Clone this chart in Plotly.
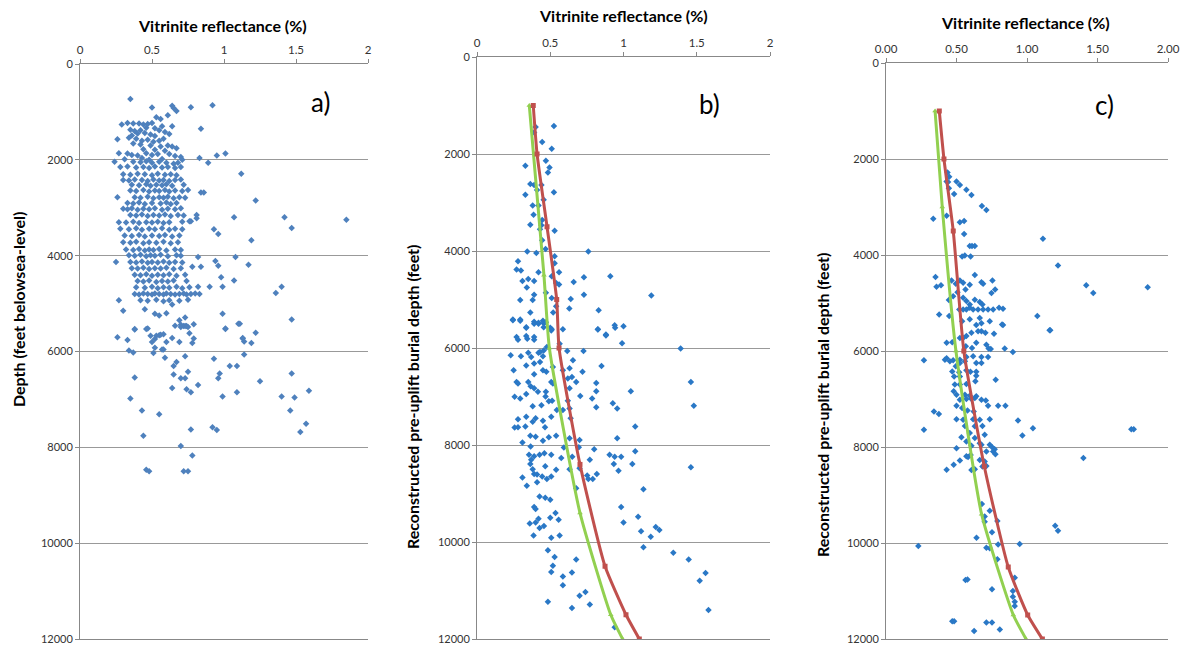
import plotly.graph_objects as go

# ---- data: (vitrinite reflectance %, depth ft) ----
pts_a = [
    (0.35, 730), (0.50, 910), (0.64, 870), (0.65, 920), (0.67, 980), (0.77, 900), (0.92, 860),
    (0.61, 1070), (0.53, 1110), (0.56, 1150), (0.29, 1260), (0.33, 1230), (0.37, 1240), (0.41, 1240),
    (0.44, 1260), (0.47, 1250), (0.50, 1230), (0.57, 1300), (0.64, 1300), (0.84, 1350), (0.35, 1370),
    (0.38, 1400), (0.42, 1380), (0.46, 1330), (0.52, 1340), (0.55, 1380), (0.59, 1420), (0.62, 1460),
    (0.45, 1440), (0.49, 1470), (0.52, 1500), (0.40, 1450), (0.36, 1490),
    (0.26, 1570), (0.34, 1540), (0.39, 1560), (0.43, 1600), (0.47, 1580), (0.51, 1620), (0.55, 1600),
    (0.58, 1560), (0.37, 1660), (0.42, 1680), (0.49, 1700), (0.56, 1720), (0.61, 1700), (0.64, 1720),
    (0.67, 1760), (0.44, 1780), (0.52, 1790), (0.59, 1810), (0.27, 1860), (0.33, 1870), (0.36, 1900),
    (0.40, 1910), (0.46, 1860), (0.50, 1900), (0.54, 1880), (0.62, 1880), (0.66, 1920), (0.70, 1940),
    (0.95, 1910), (1.01, 1870), (0.83, 1960), (0.24, 2040), (0.31, 1990), (0.43, 1960), (0.48, 2000),
    (0.57, 1980), (0.60, 2060), (0.65, 2080), (0.71, 2000), (0.89, 2060),
    (0.37, 2040), (0.42, 2050), (0.46, 2030), (0.50, 2060), (0.55, 2040), (0.68, 2060),
    (0.28, 2150), (0.33, 2140), (0.39, 2160), (0.44, 2150), (0.48, 2170), (0.52, 2140), (0.57, 2160),
    (0.61, 2150), (0.66, 2170), (0.70, 2150),
    (0.30, 2300), (0.35, 2310), (0.40, 2290), (0.45, 2300), (0.50, 2320), (0.54, 2290), (0.59, 2310),
    (0.63, 2300), (0.67, 2320), (1.12, 2290),
    (0.30, 2420), (0.34, 2430), (0.38, 2410), (0.43, 2420), (0.47, 2440), (0.51, 2410), (0.55, 2430),
    (0.58, 2420), (0.62, 2440), (0.66, 2420), (0.70, 2410),
    (0.36, 2520), (0.41, 2530), (0.46, 2510), (0.49, 2540), (0.53, 2520), (0.57, 2530), (0.60, 2510),
    (0.64, 2540), (0.72, 2520),
    (0.35, 2640), (0.39, 2650), (0.44, 2630), (0.48, 2660), (0.52, 2640), (0.55, 2650), (0.59, 2630),
    (0.62, 2660), (0.66, 2640), (0.71, 2650), (0.75, 2630), (0.84, 2680), (0.86, 2680),
    (0.26, 2780), (0.38, 2780), (0.42, 2790), (0.47, 2770), (0.51, 2800), (0.55, 2780), (0.58, 2790),
    (0.61, 2770), (0.65, 2800), (0.69, 2780), (0.73, 2790), (1.22, 2850),
    (0.33, 2900), (0.37, 2910), (0.41, 2890), (0.45, 2920), (0.50, 2900), (0.56, 2910), (0.60, 2890),
    (0.63, 2920), (0.67, 2900),
    (0.30, 3020), (0.33, 3030), (0.36, 3010), (0.40, 3040), (0.44, 3020), (0.48, 3030), (0.52, 3010),
    (0.57, 3040), (0.61, 3020), (0.66, 3030), (0.70, 3010),
    (0.35, 3150), (0.39, 3160), (0.43, 3140), (0.47, 3170), (0.51, 3150), (0.55, 3160), (0.59, 3140),
    (0.63, 3170), (0.68, 3150), (0.72, 3160), (0.81, 3150), (0.81, 3220),
    (1.07, 3200), (1.42, 3200), (1.85, 3250), (1.47, 3420), (0.93, 3450), (0.96, 3550), (1.19, 3680),
    (0.77, 3280), (0.27, 3300), (0.32, 3310), (0.37, 3290), (0.41, 3320), (0.46, 3300), (0.50, 3310),
    (0.54, 3290), (0.58, 3320), (0.62, 3300), (0.71, 3290), (0.76, 3280),
    (0.28, 3440), (0.34, 3450), (0.39, 3430), (0.43, 3460), (0.48, 3440), (0.52, 3450), (0.57, 3430),
    (0.62, 3460), (0.66, 3440), (0.71, 3450),
    (0.31, 3580), (0.36, 3590), (0.41, 3570), (0.45, 3600), (0.50, 3580), (0.55, 3590), (0.59, 3570),
    (0.64, 3600), (0.69, 3580),
    (0.30, 3720), (0.35, 3730), (0.39, 3710), (0.44, 3740), (0.48, 3720), (0.53, 3730), (0.58, 3710),
    (0.63, 3740), (0.68, 3720),
    (0.32, 3870), (0.37, 3880), (0.41, 3860), (0.45, 3890), (0.48, 3870), (0.51, 3880), (0.55, 3860),
    (0.60, 3890), (0.66, 3870), (0.70, 3880),
    (0.34, 3990), (0.38, 4000), (0.42, 3980), (0.46, 4010), (0.49, 3990), (0.52, 4000), (0.56, 3980),
    (0.61, 4010), (0.67, 3990), (0.70, 4000), (0.82, 4030), (1.08, 4030),
    (0.25, 4130), (0.35, 4130), (0.39, 4140), (0.43, 4120), (0.47, 4150), (0.50, 4130), (0.54, 4140),
    (0.58, 4120), (0.62, 4150), (0.66, 4130), (0.71, 4140), (0.94, 4110), (1.17, 4190),
    (0.36, 4260), (0.40, 4270), (0.44, 4250), (0.48, 4280), (0.52, 4260), (0.56, 4270), (0.60, 4250),
    (0.65, 4280), (0.70, 4260), (0.78, 4230), (0.84, 4230), (0.96, 4210),
    (0.38, 4400), (0.42, 4410), (0.46, 4390), (0.50, 4420), (0.54, 4400), (0.58, 4410), (0.62, 4390),
    (0.67, 4420), (0.73, 4400), (0.98, 4450),
    (0.40, 4530), (0.44, 4540), (0.48, 4520), (0.53, 4550), (0.57, 4530), (0.61, 4540), (0.65, 4520),
    (0.74, 4530), (1.07, 4520),
    (0.39, 4660), (0.45, 4670), (0.50, 4650), (0.54, 4680), (0.58, 4660), (0.62, 4670), (0.67, 4650),
    (0.71, 4680), (0.76, 4660), (0.82, 4650), (0.90, 4650), (0.99, 4650), (1.40, 4650), (1.36, 4780),
    (0.38, 4800), (0.41, 4810), (0.44, 4790), (0.47, 4800), (0.50, 4810), (0.52, 4790), (0.55, 4800),
    (0.58, 4810), (0.60, 4790), (0.63, 4800), (0.66, 4810), (0.69, 4800), (0.72, 4790), (0.74, 4810),
    (0.77, 4800), (0.80, 4790), (0.83, 4800),
    (0.27, 4930), (0.42, 4930), (0.47, 4940), (0.53, 4920), (0.58, 4950), (0.62, 4930), (0.69, 4940),
    (0.75, 4920),
    (0.30, 5150), (0.45, 5120), (0.52, 5210), (0.60, 5200), (0.64, 5020), (0.55, 5250), (0.69, 5350),
    (0.73, 5290), (0.99, 5210), (1.47, 5330), (1.10, 5420), (1.01, 5520), (1.22, 5610), (1.13, 5720),
    (0.38, 5540), (0.47, 5520),
    (0.26, 5700), (0.33, 5760), (0.34, 5980), (0.37, 6020), (0.38, 5530), (0.38, 6540), (0.35, 6980),
    (0.43, 7230), (0.44, 7760), (0.46, 8470), (0.48, 8500), (0.46, 5530), (0.49, 5670), (0.50, 5800),
    (0.52, 5740), (0.53, 5670), (0.55, 5660), (0.56, 5650), (0.58, 5640), (0.52, 5920), (0.51, 6030),
    (0.57, 5960), (0.58, 5960), (0.59, 6130), (0.60, 5800), (0.64, 5720), (0.66, 5460), (0.70, 5440),
    (0.70, 5490), (0.72, 5470), (0.73, 5470), (0.74, 5470), (0.75, 5490), (0.76, 5620), (0.69, 5800),
    (0.79, 5430), (0.78, 5820), (0.79, 5730), (0.73, 6100), (0.67, 6220), (0.65, 6300), (0.65, 6480),
    (0.70, 6560), (0.73, 6560), (0.75, 6420), (0.74, 6790), (0.77, 6850), (0.82, 6700), (0.64, 6760),
    (0.55, 7310), (0.77, 7630), (0.70, 7970), (0.78, 8170), (0.72, 8500), (0.75, 8500),
    (0.93, 6150), (0.97, 6460), (0.96, 6560), (0.99, 6940), (0.92, 7580), (0.95, 7640),
    (1.01, 5530), (1.11, 5420), (1.13, 5730), (1.14, 5790), (1.19, 5820), (1.14, 6060), (1.04, 6300),
    (1.09, 6300), (1.09, 6850), (1.25, 6620), (1.40, 6940), (1.47, 6460), (1.49, 6960), (1.59, 6820),
    (1.46, 7230), (1.57, 7510), (1.53, 7680),
]

pts_b = [
    (0.40, 1445), (0.525, 1425), (0.39, 1555), (0.445, 1750), (0.51, 1890), (0.47, 2140), (0.495, 2280),
    (0.484, 2380), (0.33, 2240), (0.364, 2620), (0.39, 2640), (0.41, 2740), (0.44, 2640), (0.33, 2840),
    (0.525, 2790), (0.455, 2945), (0.38, 3060), (0.42, 3060), (0.386, 3250), (0.445, 3360), (0.44, 3470),
    (0.364, 3460), (0.43, 3550), (0.53, 3580), (0.445, 3780), (0.468, 3960), (0.343, 4010), (0.405, 4040),
    (0.53, 4110), (0.76, 4010), (0.28, 4210), (0.53, 4250), (0.27, 4380), (0.30, 4400), (0.56, 4440),
    (0.42, 4440), (0.51, 4520), (0.35, 4575), (0.31, 4620), (0.39, 4620), (0.54, 4660), (0.56, 4690),
    (0.66, 4640), (0.73, 4540), (0.91, 4520), (0.34, 4750), (0.39, 4900), (0.47, 4860), (0.51, 4970),
    (0.73, 4900), (0.64, 4990), (1.19, 4920), (0.295, 5010), (0.38, 5010), (0.54, 5140), (0.63, 5185),
    (0.83, 5220), (0.364, 5270), (0.52, 5270), (0.245, 5410), (0.295, 5410), (0.39, 5460), (0.42, 5480),
    (0.455, 5490), (0.47, 5470), (0.336, 5570), (0.50, 5580), (0.51, 5615), (0.586, 5615), (0.825, 5615),
    (0.88, 5720), (0.94, 5530), (0.27, 5775), (0.336, 5750), (0.39, 5775),
    (0.245, 5430), (0.295, 5440), (0.336, 5580), (0.39, 5500), (0.42, 5500), (0.45, 5440), (0.28, 5830),
    (0.343, 5810), (0.39, 5830), (0.455, 5570), (0.507, 5640), (0.564, 5910), (0.43, 6080), (0.455, 6050),
    (0.477, 5980), (0.825, 5620), (0.88, 5740), (0.943, 5580), (1.0, 5550), (0.99, 5900), (1.39, 6010),
    (0.23, 6150), (0.30, 6170), (0.35, 6100), (0.37, 6185), (0.42, 6100), (0.45, 6170), (0.616, 6060),
    (0.655, 6250), (0.727, 6060), (0.25, 6460), (0.336, 6360), (0.39, 6320), (0.43, 6290), (0.45, 6460),
    (0.518, 6390), (0.586, 6460), (0.632, 6420), (0.85, 6370), (0.39, 6540), (0.473, 6490), (0.72, 6490),
    (0.648, 6600), (0.27, 6700), (0.35, 6700), (0.28, 6730), (0.507, 6700), (0.62, 6630), (0.677, 6700),
    (0.814, 6720), (1.46, 6700), (0.366, 6790), (0.39, 6830), (0.416, 6900), (0.47, 6900), (0.518, 6730),
    (0.632, 6830), (0.814, 6890), (1.05, 6890),
    (0.257, 7005), (0.295, 7040), (0.336, 6950), (0.468, 7000), (0.49, 7100), (0.513, 7090), (0.38, 7200),
    (0.44, 7180), (0.545, 7280), (0.586, 7280), (0.62, 7090), (0.705, 6990), (0.786, 7040), (0.814, 7220),
    (0.927, 7140), (0.957, 7245), (1.48, 7190), (0.632, 7245), (0.28, 7470), (0.336, 7420), (0.40, 7450),
    (0.45, 7500), (0.28, 7635), (0.257, 7640), (0.33, 7620), (0.38, 7520), (0.464, 7635), (0.507, 7420),
    (0.639, 7450), (0.31, 7950), (0.364, 7810), (0.40, 7830), (0.45, 7910), (0.49, 7840), (0.54, 7810),
    (0.593, 8050), (0.632, 7860), (0.70, 7895), (0.695, 8045), (0.957, 7860), (1.08, 7620),
    (0.366, 8030), (0.355, 8200), (0.37, 8305), (0.39, 8230), (0.427, 8200), (0.364, 8390), (0.46, 8170),
    (0.507, 8200), (0.575, 8270), (0.65, 8240), (0.80, 8090), (0.905, 8200), (0.94, 8240), (0.984, 8240),
    (1.08, 8130), (0.77, 8305), (0.934, 8390), (1.06, 8390), (1.46, 8460), (0.38, 8500), (0.466, 8440),
    (0.54, 8510), (0.39, 8600), (0.41, 8610), (0.445, 8650), (0.477, 8700), (0.507, 8650), (0.632, 8500),
    (0.70, 8480), (0.752, 8630), (0.818, 8600), (0.76, 8700), (0.79, 8700), (0.31, 8670), (0.34, 8840),
    (0.41, 8770), (0.677, 8890), (0.966, 8530), (1.136, 8910),
    (0.427, 9060), (0.466, 9090), (0.50, 9130), (0.39, 9280), (0.40, 9320), (0.984, 9280), (0.36, 9620),
    (0.40, 9600), (0.42, 9520), (0.50, 9500), (0.536, 9400), (0.557, 9540), (0.427, 9710), (0.457, 9670),
    (0.386, 9865), (0.507, 9910), (0.564, 9865), (1.00, 9600), (1.10, 9480), (1.12, 9780), (1.186, 9890),
    (1.22, 9690), (1.245, 9755),
    (1.136, 10110), (1.34, 10220), (1.445, 10360), (0.484, 10170), (0.53, 10310), (0.677, 10360),
    (0.518, 10490), (0.507, 10620), (0.586, 10710), (0.648, 10630), (0.586, 10890), (1.56, 10640),
    (1.52, 10800), (0.70, 11110), (0.74, 11030), (0.77, 11290), (0.648, 11360), (0.484, 11230),
    (1.58, 11400), (0.94, 11760),
]

pts_c = [
    (0.436, 2280), (0.448, 2370), (0.43, 2470), (0.44, 2480), (0.50, 2470), (0.524, 2540), (0.446, 2610),
    (0.483, 2730), (0.57, 2640), (0.606, 2750), (0.68, 2980), (0.712, 3060), (0.335, 3245), (0.43, 3180),
    (0.524, 3320), (0.554, 3290), (0.554, 3560), (0.594, 3810), (0.61, 3810), (0.63, 3810), (0.54, 4030),
    (0.559, 4010), (0.60, 4030), (1.113, 3660), (1.22, 4220), (0.351, 4460), (0.358, 4660), (0.39, 4630),
    (0.465, 4530), (0.495, 4600), (0.524, 4530), (0.547, 4580), (0.594, 4620), (0.63, 4415), (0.677, 4570),
    (0.689, 4600), (0.755, 4530), (0.774, 4720), (0.748, 4790), (0.564, 4720), (0.507, 4775), (0.476, 4860),
    (0.446, 4940), (0.547, 4890), (0.57, 4960), (0.63, 4930), (0.665, 4980), (0.684, 5030), (0.594, 5030),
    (0.52, 5135), (0.547, 5135), (0.57, 5135), (0.594, 5100), (0.618, 5135), (0.653, 5135), (0.689, 5135),
    (0.724, 5135), (0.76, 5135), (0.802, 5100), (0.83, 5120), (1.42, 4630), (1.47, 4790), (1.856, 4670),
    (1.073, 5270), (1.16, 5570), (0.377, 5240), (0.448, 5270), (0.54, 5380), (0.594, 5340), (0.665, 5310),
    (0.736, 5380), (0.64, 5460), (0.677, 5590), (0.705, 5620), (0.83, 5460), (0.57, 5690),
    (0.47, 5820), (0.43, 5830), (0.524, 5730), (0.547, 5730), (0.606, 5620), (0.653, 5590), (0.677, 5420),
    (0.64, 5830), (0.712, 5870), (0.766, 5640), (0.823, 5450), (0.728, 5950), (0.743, 5960), (0.842, 5950),
    (0.90, 6020), (1.165, 5570), (0.61, 5940), (0.566, 5900),
    (0.269, 6195), (0.43, 6150), (0.418, 6180), (0.453, 6215), (0.476, 6195), (0.524, 6180), (0.57, 6125),
    (0.618, 6110), (0.677, 6125), (0.724, 6125), (0.495, 6320), (0.524, 6250), (0.56, 6215), (0.64, 6250),
    (0.677, 6250), (0.47, 6425), (0.519, 6445), (0.57, 6400), (0.599, 6430), (0.64, 6430), (0.483, 6530),
    (0.524, 6530), (0.64, 6515), (0.778, 6600), (0.488, 6700), (0.524, 6700), (0.57, 6690), (0.634, 6630),
    (0.48, 6840), (0.50, 6910), (0.56, 6910), (0.594, 6930), (0.64, 6945), (0.524, 7015), (0.57, 7000),
    (0.606, 7000), (0.63, 6980), (0.677, 7015), (0.708, 7030), (0.724, 7140), (0.795, 7140), (0.847, 7140),
    (0.34, 7260), (0.375, 7310), (0.50, 7140), (0.54, 7190), (0.578, 7240), (0.622, 7260), (0.50, 7420),
    (0.547, 7430), (0.618, 7420), (0.665, 7430), (0.736, 7420), (0.936, 7450), (0.269, 7640), (0.56, 7560),
    (0.63, 7570), (0.684, 7560), (1.042, 7610), (0.967, 7760), (1.74, 7630), (1.757, 7630), (0.535, 7795),
    (0.594, 7710), (0.63, 7815), (0.70, 7745), (0.665, 7920), (0.57, 7885), (0.50, 8025), (0.606, 7975),
    (0.677, 7955), (0.736, 7955), (0.755, 8010), (0.771, 8045), (0.712, 8095), (0.76, 8095), (0.776, 8150),
    (0.60, 8165), (0.57, 8195), (0.582, 8210), (1.40, 8230), (0.524, 8280), (0.665, 8270), (0.70, 8300),
    (0.48, 8370), (0.43, 8475), (0.606, 8480), (0.63, 8465), (0.684, 8405), (0.712, 8395),
    (0.68, 9185), (0.736, 9330), (0.70, 9450), (0.70, 9555), (0.79, 9540), (0.752, 9775), (1.20, 9640),
    (1.22, 9745), (0.642, 9890), (0.229, 10065), (0.712, 10100), (0.736, 10110), (0.795, 10030),
    (0.948, 10020), (0.79, 10340), (0.564, 10770), (0.578, 10760), (0.913, 10725), (0.752, 10965),
    (0.90, 11000), (0.90, 11120), (0.913, 11225), (0.913, 11315), (0.47, 11630), (0.483, 11630),
    (0.712, 11655), (0.752, 11655), (0.625, 11835), (0.807, 11800),
]

# model curves (red and green) for panels b and c
red_b_ro = [0.384, 0.41, 0.478, 0.544, 0.56, 0.703, 0.874, 1.017, 1.108]
red_b_depth = [1000, 2000, 3500, 5000, 6000, 8400, 10500, 11500, 12000]
green_b_ro = [0.357, 0.457, 0.494, 0.703, 0.913, 0.994]
green_b_depth = [1000, 4500, 6000, 9400, 11500, 12000]
red_c_ro = [0.378, 0.411, 0.477, 0.552, 0.697, 0.867, 1.005, 1.109]
red_c_depth = [1000, 2000, 3500, 6000, 8400, 10500, 11500, 12000]
green_c_ro = [0.348, 0.399, 0.496, 0.678, 0.903, 0.993]
green_c_depth = [1000, 3000, 6000, 9400, 11500, 12000]

W, H = 1189, 646
FONT = "Lato, 'Open Sans', sans-serif"
RED = "#C0504D"
GREEN = "#92D050"

fig = go.Figure()


def scatter(pts, axis, color):
    ro, depth = zip(*pts)
    fig.add_trace(go.Scatter(x=ro, y=depth, mode="markers", xaxis="x" + axis, yaxis="y" + axis,
                             marker=dict(symbol="diamond", size=5, color=color), showlegend=False))


def curve(ro, depth, axis, color, sym):
    fig.add_trace(go.Scatter(x=ro, y=depth, mode="lines+markers", xaxis="x" + axis, yaxis="y" + axis,
                             line=dict(color=color, width=3, shape="spline", smoothing=0.5),
                             marker=dict(symbol=sym, size=5, color=color), showlegend=False))


scatter(pts_a, "", "#4F81BD")
scatter(pts_b, "2", "#2A78C6")
curve(green_b_ro, green_b_depth, "2", GREEN, "triangle-up")
curve(red_b_ro, red_b_depth, "2", RED, "square")
scatter(pts_c, "3", "#2A78C6")
curve(green_c_ro, green_c_depth, "3", GREEN, "triangle-up")
curve(red_c_ro, red_c_depth, "3", RED, "square")

# plot-area pixel boxes: (left, right, top, bottom)
boxes = [(80, 368, 64, 639), (477, 770, 57, 639), (886, 1168, 63, 639)]

layout = dict(width=W, height=H, margin=dict(l=0, r=0, t=0, b=0, autoexpand=False),
              paper_bgcolor="white", plot_bgcolor="white",
              font=dict(family=FONT, size=11, color="#333333"))
for i, (l, r, t, b) in enumerate(boxes):
    sfx = "" if i == 0 else str(i + 1)
    layout["xaxis" + sfx] = dict(
        domain=[l / W, r / W], range=[0, 2], dtick=0.5, side="top", automargin=False,
        anchor="y" + sfx, showgrid=False, zeroline=False, showline=True, mirror=True,
        linecolor="#888888", linewidth=1, ticks="outside", ticklen=4, tickcolor="#888888",
        tickformat=".2f" if i == 2 else "", tickfont=dict(size=11.5, color="#333333"))
    layout["yaxis" + sfx] = dict(
        domain=[1 - b / H, 1 - t / H], range=[12000, 0], dtick=2000, automargin=False,
        tickformat="d", anchor="x" + sfx, showgrid=True, gridcolor="#999999", gridwidth=1,
        zeroline=False, showline=True, linecolor="#888888", linewidth=1, ticks="outside",
        ticklen=4, tickcolor="#888888", tickfont=dict(size=11, color="#333333"))
fig.update_layout(**layout)


def label(xc, yc, txt, size, angle=0):
    return dict(x=xc / W, y=1 - yc / H, xref="paper", yref="paper", showarrow=False,
                xanchor="center", yanchor="middle", text=txt, textangle=angle,
                font=dict(size=size, color="#000000"))


ann = []
# x-axis titles
for xc, yc in [(222, 25), (623, 16), (1025, 23)]:
    ann.append(label(xc, yc, "<b>Vitrinite reflectance (%)</b>", 16))
# y-axis titles
for xc, yc, txt in [(18, 310, "Depth (feet belowsea-level)"),
                    (412, 397, "Reconstructed pre-uplift burial depth (feet)"),
                    (822, 405, "Reconstructed pre-uplift burial depth (feet)")]:
    ann.append(label(xc, yc, "<b>" + txt + "</b>", 16, -90))
# panel labels
for xc, yc, txt in [(320, 102, "a)"), (709, 104, "b)"), (1104, 105, "c)")]:
    ann.append(label(xc, yc, txt, 26))
fig.update_layout(annotations=ann)

# drop the browser's default page margin so the figure sits at the window origin
fig.write_html("out.html", config={"displayModeBar": False},
               post_script="document.body.style.margin='0';")
